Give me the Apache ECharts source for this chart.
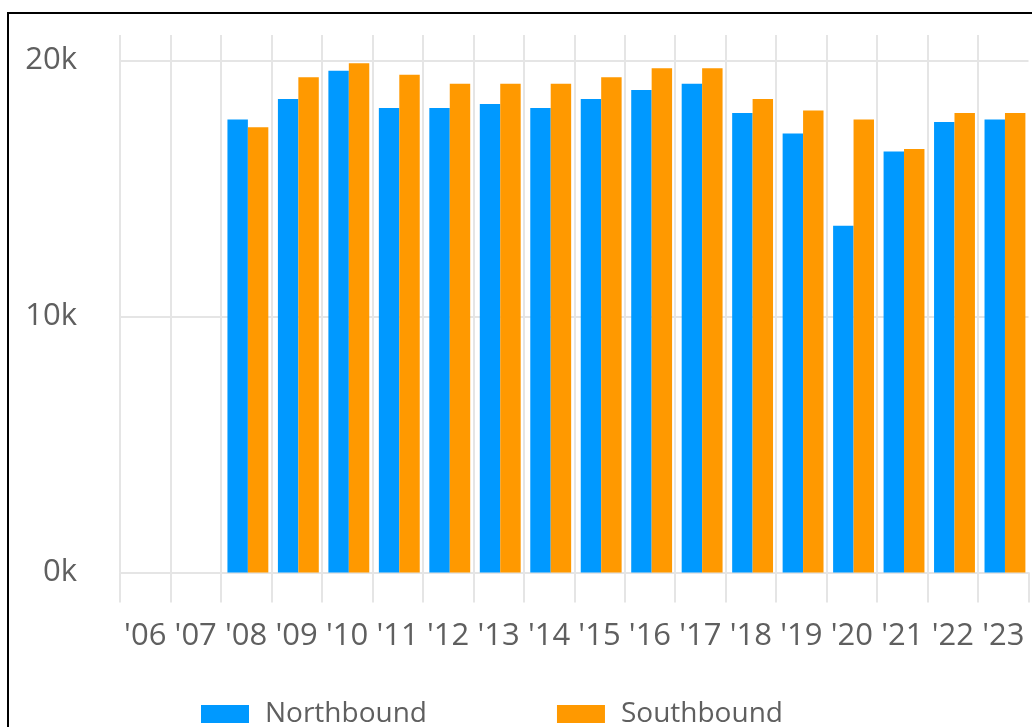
<!DOCTYPE html>
<html>
<head>
<meta charset="utf-8">
<script src="https://cdn.jsdelivr.net/npm/echarts@6/dist/echarts.min.js"></script>
<style>
  html, body { margin: 0; padding: 0; background: #ffffff; }
  #chart { width: 1032px; height: 727px; }
</style>
</head>
<body>
<div id="chart"></div>
<script>
const years = ["'06", "'07", "'08", "'09", "'10", "'11", "'12", "'13", "'14", "'15", "'16", "'17", "'18", "'19", "'20", "'21", "'22", "'23"];
const northbound = [null, null, 17700, 18500, 19600, 18150, 18150, 18300, 18150, 18500, 18850, 19100, 17950, 17150, 13550, 16450, 17600, 17700];
const southbound = [null, null, 17400, 19350, 19900, 19450, 19100, 19100, 19100, 19350, 19700, 19700, 18500, 18050, 17700, 16550, 17950, 17950];
const seriesNames = ['Northbound', 'Southbound'];
const yTicks = [0, 10000, 20000];

const gridColor = '#e5e5e5';
const textColor = '#5f5f5f';
const fontFamily = "'Open Sans', 'Noto Sans', sans-serif";

const gridBase = { top: 35, width: 908.5, height: 537.5, containLabel: false, outerBoundsMode: 'none' };

const chart = echarts.init(document.getElementById('chart'), null, { renderer: 'canvas' });
chart.setOption({
  animation: false,
  backgroundColor: '#ffffff',
  textStyle: { fontFamily: fontFamily },
  graphic: [{
    type: 'rect', silent: true, z: 100,
    shape: { x: 8, y: 13, width: 1200, height: 900 },
    style: { fill: null, stroke: '#000000', lineWidth: 2 }
  }],
  grid: [
    Object.assign({ left: 120 }, gridBase),
    Object.assign({ left: 121.7 }, gridBase)
  ],
  legend: {
    data: seriesNames,
    left: 201, top: 692,
    padding: 0,
    icon: 'rect',
    itemWidth: 48, itemHeight: 18,
    itemGap: 130,
    textStyle: { fontSize: 28, color: textColor, fontFamily: fontFamily, padding: [0, 0, 6, 11], lineHeight: 38 }
  },
  xAxis: [{
    type: 'category',
    gridIndex: 0,
    data: years,
    boundaryGap: true,
    axisLine: { show: true, lineStyle: { color: gridColor, width: 2 } },
    axisTick: { show: true, interval: 0, length: 30, lineStyle: { color: gridColor, width: 2 } },
    splitLine: { show: true, interval: 0, showMinLine: true, showMaxLine: false, lineStyle: { color: gridColor, width: 2 } },
    axisLabel: { interval: 0, fontSize: 31, color: textColor, margin: 48, fontFamily: fontFamily }
  }, {
    type: 'category',
    gridIndex: 1,
    data: years,
    boundaryGap: true,
    show: false
  }],
  yAxis: [{
    type: 'value',
    gridIndex: 0,
    min: 0, max: 21000, interval: 10000,
    axisLine: { show: false },
    axisTick: { show: false },
    splitLine: { show: true, showMaxLine: false, lineStyle: { color: gridColor, width: 2 } },
    axisLabel: {
      fontSize: 31, color: textColor, margin: 43, fontFamily: fontFamily,
      showMaxLabel: false,
      formatter: function (v) { return yTicks.indexOf(v) >= 0 ? (v / 1000) + 'k' : ''; }
    }
  }, {
    type: 'value',
    gridIndex: 1,
    min: 0, max: 21000, interval: 10000,
    show: false,
    splitLine: { show: false }
  }],
  series: [
    { name: seriesNames[0], type: 'bar', xAxisIndex: 1, yAxisIndex: 1, data: northbound, barGap: '0%', barCategoryGap: '19%', itemStyle: { color: '#0099ff' } },
    { name: seriesNames[1], type: 'bar', xAxisIndex: 1, yAxisIndex: 1, data: southbound, barGap: '0%', barCategoryGap: '19%', itemStyle: { color: '#ff9900' } }
  ]
});
</script>
</body>
</html>
